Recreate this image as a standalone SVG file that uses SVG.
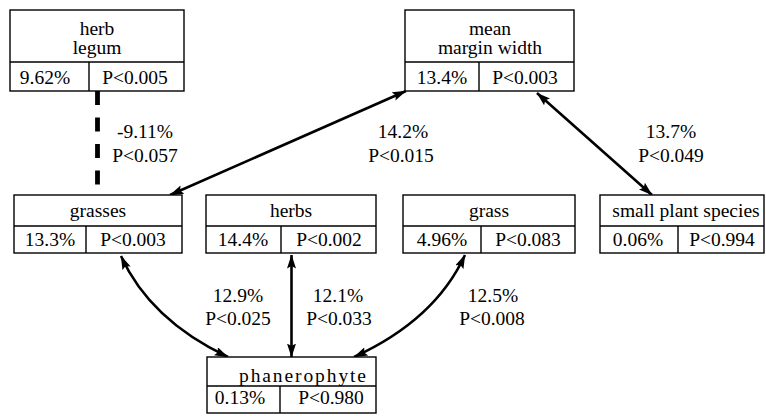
<svg xmlns="http://www.w3.org/2000/svg" width="766" height="416" viewBox="0 0 766 416">
  <style>
    .box { fill: #fff; stroke: #000; stroke-width: 1.4; }
    .div { stroke: #000; stroke-width: 1.4; fill: none; }
    .edge { fill: none; stroke: #000; stroke-width: 2.6; }
    .dash { fill: none; stroke: #000; stroke-width: 4.8; stroke-dasharray: 14 12.5; }
  </style>
  <defs>
    <marker id="arrow" viewBox="0 0 14 9" refX="13.5" refY="4.5" markerWidth="14" markerHeight="9" markerUnits="userSpaceOnUse" orient="auto-start-reverse">
      <path d="M0,0 L14,4.5 L0,9 L2.5,4.5 z" fill="#000"/>
    </marker>
  </defs>

  <rect width="766" height="416" fill="#fff"/>

  <!-- connectors -->
  <g id="connectors">
    <path class="dash" d="M97.5,91 L97.5,194"/>
    <path class="edge" d="M170,195 L406,91" marker-start="url(#arrow)" marker-end="url(#arrow)"/>
    <path class="edge" d="M537,93 L652,195" marker-start="url(#arrow)" marker-end="url(#arrow)"/>
    <path class="edge" d="M121,256 Q150,320 228,357" marker-start="url(#arrow)" marker-end="url(#arrow)"/>
    <path class="edge" d="M291.5,255 L291.5,357" marker-start="url(#arrow)" marker-end="url(#arrow)"/>
    <path class="edge" d="M465,255 Q435,320 354,357" marker-start="url(#arrow)" marker-end="url(#arrow)"/>
  </g>

  <g font-family="Liberation Serif" font-size="19.5" text-anchor="middle" fill="#000">
  <!-- connector labels -->
  <g id="edge-labels">
    <text font-family="Liberation Serif" x="145" y="138">-9.11%</text>
    <text font-family="Liberation Serif" x="145" y="162">P&lt;0.057</text>
    <text font-family="Liberation Serif" x="403" y="138">14.2%</text>
    <text font-family="Liberation Serif" x="401" y="162">P&lt;0.015</text>
    <text font-family="Liberation Serif" x="671" y="138">13.7%</text>
    <text font-family="Liberation Serif" x="671" y="162">P&lt;0.049</text>
    <text font-family="Liberation Serif" x="238" y="302">12.9%</text>
    <text font-family="Liberation Serif" x="238" y="325">P&lt;0.025</text>
    <text font-family="Liberation Serif" x="338" y="302">12.1%</text>
    <text font-family="Liberation Serif" x="339" y="325">P&lt;0.033</text>
    <text font-family="Liberation Serif" x="493" y="302">12.5%</text>
    <text font-family="Liberation Serif" x="492" y="325">P&lt;0.008</text>
  </g>

  <!-- nodes -->
  <g id="herb-legum">
    <rect class="box" x="10" y="10" width="174" height="81"/>
    <path class="div" d="M10,62 H184 M89,62 V91"/>
    <text font-family="Liberation Serif" x="97" y="35">herb</text>
    <text font-family="Liberation Serif" x="97" y="54">legum</text>
    <text font-family="Liberation Serif" x="45" y="84">9.62%</text>
    <text font-family="Liberation Serif" x="135" y="84">P&lt;0.005</text>
  </g>

  <g id="mean-margin-width">
    <rect class="box" x="405" y="10" width="169" height="81"/>
    <path class="div" d="M405,62 H574 M479,62 V91"/>
    <text font-family="Liberation Serif" x="490" y="35">mean</text>
    <text font-family="Liberation Serif" x="490" y="54">margin width</text>
    <text font-family="Liberation Serif" x="442" y="84">13.4%</text>
    <text font-family="Liberation Serif" x="525" y="84">P&lt;0.003</text>
  </g>

  <g id="grasses">
    <rect class="box" x="14" y="195" width="168" height="58"/>
    <path class="div" d="M14,226 H182 M86,226 V253"/>
    <text font-family="Liberation Serif" x="98" y="217">grasses</text>
    <text font-family="Liberation Serif" x="50" y="246">13.3%</text>
    <text font-family="Liberation Serif" x="133" y="246">P&lt;0.003</text>
  </g>

  <g id="herbs">
    <rect class="box" x="206" y="195" width="170" height="58"/>
    <path class="div" d="M206,226 H376 M281,226 V253"/>
    <text font-family="Liberation Serif" x="291" y="217">herbs</text>
    <text font-family="Liberation Serif" x="243" y="246">14.4%</text>
    <text font-family="Liberation Serif" x="329" y="246">P&lt;0.002</text>
  </g>

  <g id="grass">
    <rect class="box" x="403" y="195" width="172" height="58"/>
    <path class="div" d="M403,226 H575 M481,226 V253"/>
    <text font-family="Liberation Serif" x="489" y="217">grass</text>
    <text font-family="Liberation Serif" x="442" y="246">4.96%</text>
    <text font-family="Liberation Serif" x="528" y="246">P&lt;0.083</text>
  </g>

  <g id="small-plant-species">
    <rect class="box" x="600" y="195" width="164" height="58"/>
    <path class="div" d="M600,226 H764 M678,226 V253"/>
    <text font-family="Liberation Serif" x="686" y="217">small plant species</text>
    <text font-family="Liberation Serif" x="638" y="246">0.06%</text>
    <text font-family="Liberation Serif" x="722" y="246">P&lt;0.994</text>
  </g>

  <g id="phanerophyte">
    <rect class="box" x="207" y="357" width="169" height="56"/>
    <path class="div" d="M207,386 H376 M280,386 V413"/>
    <text font-family="Liberation Serif" text-anchor="start" x="239" y="382" textLength="127" lengthAdjust="spacing">phanerophyte</text>
    <text font-family="Liberation Serif" x="240" y="404">0.13%</text>
    <text font-family="Liberation Serif" x="331" y="404">P&lt;0.980</text>
  </g>
  </g>
</svg>
